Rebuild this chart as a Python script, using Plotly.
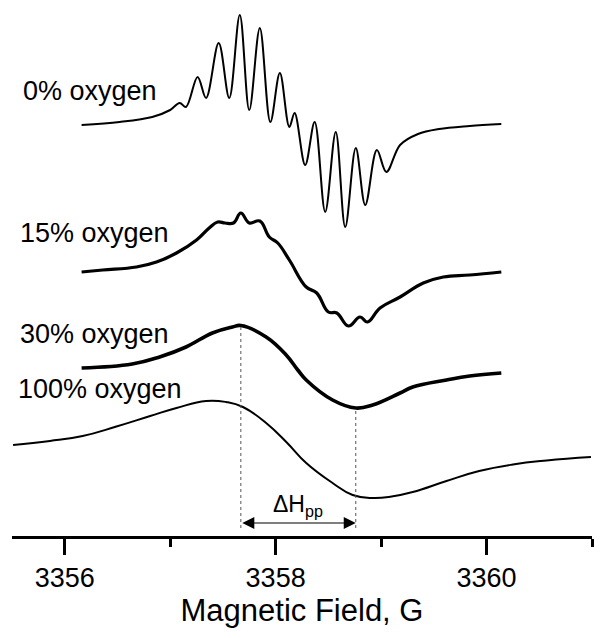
import plotly.graph_objects as go

# ---- data (field in G, intensity in arbitrary units relative to baseline) ----
field_0 = [3356.16, 3356.52, 3356.83, 3357.00, 3357.09, 3357.15, 3357.26, 3357.34, 3357.46, 3357.56,
           3357.66, 3357.75, 3357.85, 3357.95, 3358.04, 3358.13, 3358.18, 3358.28, 3358.37, 3358.47,
           3358.57, 3358.66, 3358.76, 3358.85, 3358.96, 3359.05, 3359.18, 3359.35, 3359.55, 3359.84, 3360.14]
int_0 = [0.00, 0.03, 0.08, 0.15, 0.22, 0.18, 0.48, 0.27, 0.82, 0.27,
         1.10, 0.15, 0.97, 0.03, 0.52, -0.02, 0.12, -0.40, 0.03, -0.87,
         -0.07, -1.02, -0.23, -0.80, -0.25, -0.47, -0.20, -0.09, -0.04, -0.01, 0.01]

field_15 = [3356.16, 3356.36, 3356.68, 3356.87, 3357.06, 3357.25, 3357.37, 3357.45, 3357.52, 3357.60,
            3357.67, 3357.75, 3357.85, 3357.94, 3358.02, 3358.13, 3358.29, 3358.39, 3358.50, 3358.58,
            3358.69, 3358.80, 3358.87, 3358.99, 3359.18, 3359.40, 3359.59, 3359.84, 3360.14]
int_15 = [-0.01, 0.01, 0.04, 0.09, 0.18, 0.31, 0.43, 0.49, 0.48, 0.48,
          0.58, 0.48, 0.50, 0.34, 0.28, 0.11, -0.16, -0.22, -0.41, -0.42,
          -0.55, -0.46, -0.51, -0.37, -0.26, -0.12, -0.06, -0.04, -0.01]

field_30 = [3356.16, 3356.64, 3356.90, 3357.15, 3357.40, 3357.59, 3357.67, 3357.91, 3358.10, 3358.21,
            3358.29, 3358.54, 3358.76, 3358.92, 3359.18, 3359.30, 3359.62, 3359.84, 3360.14]
int_30 = [0.02, 0.06, 0.13, 0.23, 0.37, 0.43, 0.445, 0.33, 0.15, 0.00,
          -0.10, -0.30, -0.38, -0.35, -0.23, -0.17, -0.10, -0.06, -0.03]

field_100 = [3355.51, 3355.86, 3356.17, 3356.49, 3356.81, 3357.06, 3357.34, 3357.53, 3357.69, 3357.91,
             3358.11, 3358.29, 3358.54, 3358.73, 3358.92, 3359.10, 3359.30, 3359.62, 3359.93, 3360.25,
             3360.57, 3360.99]
int_100 = [0.06, 0.10, 0.15, 0.245, 0.35, 0.43, 0.50, 0.49, 0.44, 0.28,
           0.08, -0.12, -0.32, -0.44, -0.47, -0.455, -0.41, -0.30, -0.20, -0.135,
           -0.095, -0.06]

labels = ["0% oxygen", "15% oxygen", "30% oxygen", "100% oxygen"]
offsets = [4.11, 2.65, 1.66, 0.85]          # vertical stacking offsets (a.u.)
tick_vals = [3356, 3358, 3360]
tick_text = ["3356", "3358", "3360"]
dhpp_left, dhpp_right = 3357.67, 3358.76    # peak-to-peak positions (G)

FONT = "Liberation Sans, Arial, sans-serif"

series = [(field_0, int_0, 2.0, 1.0), (field_15, int_15, 3.2, 1.2),
          (field_30, int_30, 3.6, 1.2), (field_100, int_100, 2.0, 1.3)]

fig = go.Figure()
for (fx, iy, w, sm), off in zip(series, offsets):
    fig.add_trace(go.Scatter(
        x=fx, y=[v + off for v in iy], mode="lines",
        line=dict(color="black", width=w, shape="spline", smoothing=sm),
        showlegend=False, hoverinfo="skip"))

# curve labels
label_pos = [(3355.59, 4.45), (3355.555, 3.03), (3355.555, 2.02), (3355.54, 1.47)]
for txt, (lx, ly) in zip(labels, label_pos):
    fig.add_annotation(x=lx, y=ly, xref="x", yref="y", text=txt, showarrow=False,
                       xanchor="left", yanchor="middle",
                       font=dict(family=FONT, size=27, color="black"))

# dotted guide lines
y30_peak = offsets[2] + max(int_30)
y30_min = offsets[2] + min(int_30)
for xx, ytop in [(dhpp_left, y30_peak), (dhpp_right, y30_min)]:
    fig.add_shape(type="line", xref="x", yref="y", x0=xx, x1=xx, y0=0.08, y1=ytop,
                  line=dict(color="#555555", width=1, dash="dot"))

# double-headed arrow
fig.add_annotation(x=dhpp_right, y=0.13, ax=dhpp_left, ay=0.13, xref="x", yref="y",
                   axref="x", ayref="y", text="", showarrow=True,
                   arrowhead=2, startarrowhead=2, arrowside="end+start",
                   arrowsize=2.0, startarrowsize=2.0, arrowwidth=1.2, arrowcolor="black")
fig.add_annotation(x=(dhpp_left + dhpp_right) / 2, y=0.31, xref="x", yref="y",
                   text="ΔH<sub>pp</sub>", showarrow=False,
                   font=dict(family=FONT, size=23, color="black"))

fig.update_layout(
    width=606, height=638,
    margin=dict(l=12, r=14, t=0, b=102),
    paper_bgcolor="white", plot_bgcolor="white",
    font=dict(family=FONT, color="black"),
    xaxis=dict(range=[3355.5, 3361], showgrid=False, zeroline=False,
               showline=True, linecolor="black", linewidth=2.5,
               ticks="outside", ticklen=16, tickwidth=2.5, tickcolor="black",
               tickvals=tick_vals, ticktext=tick_text,
               tickfont=dict(family=FONT, size=27, color="black"),
               minor=dict(dtick=1, tick0=3355, ticks="outside", ticklen=8, tickwidth=2.5, tickcolor="black"),
               title=dict(text="Magnetic Field, G", font=dict(family=FONT, size=31, color="black"), standoff=2)),
    yaxis=dict(range=[0, 5.36], visible=False),
)

fig.write_html("out.html", config={"displayModeBar": False},
               post_script="document.body.style.margin='0';document.body.style.overflow='hidden';")
